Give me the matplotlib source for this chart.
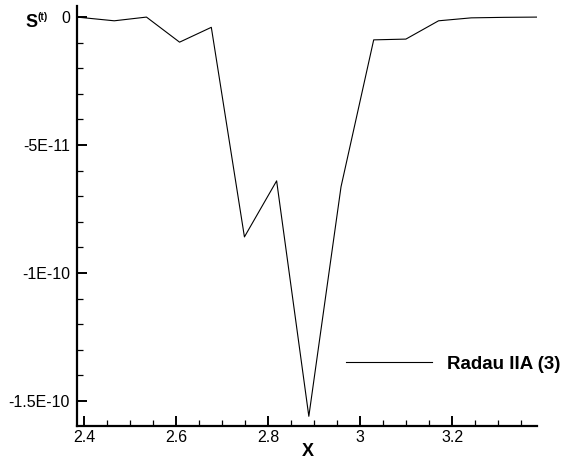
import numpy as np
import matplotlib.pyplot as plt
from matplotlib.ticker import MultipleLocator

plt.rcParams['font.family'] = ['Liberation Sans', 'DejaVu Sans']

# data
x = [2.384, 2.465, 2.535, 2.607, 2.676, 2.748, 2.818, 2.888, 2.958,
     3.029, 3.099, 3.170, 3.241, 3.312, 3.387]
s = [0.0, -1.45e-12, 0.0, -9.8e-12, -4.0e-12, -8.59e-11, -6.40e-11, -1.56e-10,
     -6.63e-11, -8.9e-12, -8.6e-12, -1.45e-12, -0.3e-12, -0.1e-12, 0.0]
yticks = [0, -5e-11, -1e-10, -1.5e-10]
ylabels = ['0', '-5E-11', '-1E-10', '-1.5E-10']
xticks = [2.4, 2.6, 2.8, 3.0, 3.2]
xlabels = ['2.4', '2.6', '2.8', '3', '3.2']

fig = plt.figure(figsize=(5.72, 4.68), dpi=100)
ax = fig.add_axes([0.1346, 0.0897, 0.8042, 0.8973])
ax.plot(x, s, color='black', lw=0.8, label='Radau IIA (3)')

ax.set_xlim(2.384, 3.384)
ax.set_ylim(-1.598e-10, 4.3e-12)
ax.set_xticks(xticks, xlabels)
ax.set_yticks(yticks, ylabels)
ax.xaxis.set_minor_locator(MultipleLocator(0.05))
ax.yaxis.set_minor_locator(MultipleLocator(1e-11))

for side in ['top', 'right']:
    ax.spines[side].set_visible(False)
for side in ['left', 'bottom']:
    ax.spines[side].set_linewidth(1.6)

ax.tick_params(which='major', direction='in', length=7.5, width=1.4, labelsize=11.5)
ax.tick_params(axis='x', which='major', pad=3)
ax.tick_params(axis='y', which='major', pad=5)
ax.tick_params(which='minor', direction='in', length=4, width=0.9)

# axis titles
fig.text(308 / 572, 1 - 452 / 468, 'X', fontsize=13, fontweight='bold',
         ha='center', va='center')
fig.text(25 / 572, 1 - 27 / 468, 'S', fontsize=13, fontweight='bold',
         ha='left', va='baseline')
fig.text(37 / 572, 1 - 20 / 468, '(t)', fontsize=7.5, fontweight='bold',
         ha='left', va='baseline')

ax.legend(loc='center left', bbox_to_anchor=(346 / 572, 1 - 364 / 468),
          bbox_transform=fig.transFigure, frameon=False, borderpad=0,
          borderaxespad=0, handlelength=4.57, handletextpad=0.8,
          prop={'weight': 'bold', 'size': 13.5})

fig.savefig('out.png', dpi=100)
